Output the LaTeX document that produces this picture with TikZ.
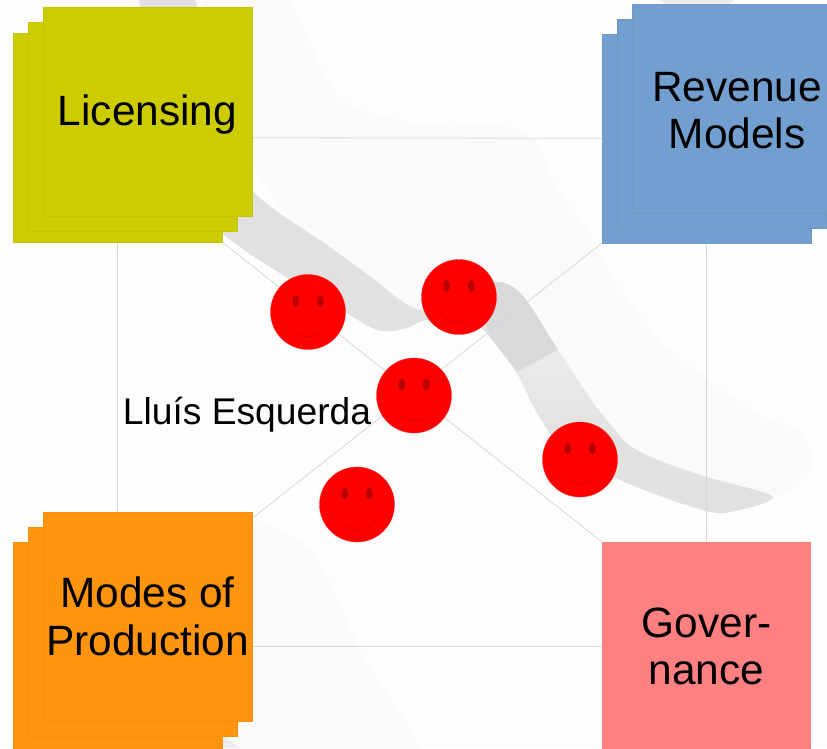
\documentclass[tikz,border=0pt]{standalone}
\usepackage{fontspec}
\setmainfont{Liberation Sans}
\definecolor{limeC}{HTML}{CCCC00}
\definecolor{blueC}{HTML}{729FCF}
\definecolor{orangeC}{HTML}{FF950E}
\definecolor{pinkC}{HTML}{FF8080}
\definecolor{wireC}{HTML}{D3D8E6}
\definecolor{eyeC}{HTML}{B80000}
\definecolor{smileC}{HTML}{E20000}
\definecolor{paperC}{HTML}{FDFDFE}
\definecolor{sweepC}{HTML}{E1E1E1}
\definecolor{sweepD}{HTML}{D9D9D9}
\definecolor{sweepL}{HTML}{EBEBEB}
\definecolor{faintC}{HTML}{FAFAFB}
\pgfdeclarelayer{sweeps}
\pgfdeclarelayer{wires}
\pgfsetlayers{sweeps,wires,main}
\tikzset{
  card/.style={draw=#1!96!black,line width=0.4pt,fill=#1,minimum size=208.6pt,inner sep=0pt},
  bare/.style={fill=#1,draw=none,minimum size=209pt,inner sep=0pt},
  tag/.style={inner sep=0pt,align=center,text=black,font=\fontsize{42.4}{47.5}\selectfont},
  wire/.style={draw=wireC,line width=0.8pt},
  smileface/.style={circle,fill=red,draw=red!85!white,line width=0.3pt,minimum size=75pt,inner sep=0pt},
  eyemark/.style={fill=eyeC,draw=none},
  smilemark/.style={draw=smileC,line width=0.9pt},
  caption/.style={inner sep=0pt,anchor=base,text=black,font=\fontsize{37.2}{44}\selectfont}
}
\newcommand{\smiley}[3]{%
  \node[smileface] (#1) at (#2,#3) {};
  \fill[eyemark] ([shift={(-12.3pt,11pt)}]#1.center) ellipse[x radius=3.2pt,y radius=6pt];
  \fill[eyemark] ([shift={(12.3pt,11pt)}]#1.center) ellipse[x radius=3.2pt,y radius=6pt];
  \draw[smilemark] ([shift={(-20pt,-15pt)}]#1.center) .. controls ([shift={(-9pt,-28pt)}]#1.center) and ([shift={(9pt,-28pt)}]#1.center) .. ([shift={(20pt,-15pt)}]#1.center);
}
\begin{document}
\begin{tikzpicture}[x=1pt,y=-1pt]
\useasboundingbox (0,0) rectangle (827,748);
\clip (0,0) rectangle (827,748);
\begin{pgfonlayer}{sweeps}
\clip (0,0) rectangle (827,748);
\fill[paperC] (0,0) rectangle (827,748);
% faint sweeps
\fill[faintC] plot[smooth,tension=.5] coordinates {(280,-20) (300,20) (343,100) (430,125) (523,130) (557,187) (590,233) (613,277) (630,303) (667,347) (713,383) (763,417) (797,430) (813,460) (800,483) (773,497) (700,485) (620,460) (545,370) (497,300) (420,315) (300,230) (230,120) (200,-20)};
\fill[faintC] plot[smooth,tension=.5] coordinates {(255,520) (313,553) (360,650) (420,770) (235,770) (222,735)};
% main sweep
\fill[sweepC] plot[smooth,tension=.5] coordinates {(135,-20) (187,-20) (225,120) (252,190) (327,245) (375,280) (403,302) (425,310) (455,297) (497,282) (517,290) (533,310) (557,350) (593,403) (623,440) (653,458) (707,477) (773,497) (723,513) (680,503) (620,480) (565,450) (537,413) (517,373) (490,337) (470,322) (427,320) (407,328) (383,331) (353,317) (222,233) (170,150)};
\fill[sweepD] plot[smooth,tension=.5] coordinates {(470,285) (497,282) (517,290) (533,310)} -- (558,350) -- (517,372) -- (490,337) -- cycle;
\shade[top color=sweepL,bottom color=sweepC] (517,372) -- (558,350) -- (593,403) -- (623,440) -- (565,450) -- (537,413) -- cycle;
% other traces of the background
\fill[sweepL] (660,0) -- (733,0) -- (728,5) -- (668,5) -- cycle;
\fill[sweepL] (222,735) -- (240,748) -- (222,748) -- cycle;
\end{pgfonlayer}
% rear cards, which the connectors join
\node[card=limeC] (licB) at (117.5,137.5) {};
\node[card=blueC] (revB) at (706.5,138.5) {};
\node[card=orangeC] (modB) at (117.5,646.5) {};
\node[bare=pinkC] (gov) at (706.5,646.5) {};
\begin{pgfonlayer}{wires}
\clip (0,0) rectangle (827,748);
\draw[wire] (licB.center) -- (revB.center);
\draw[wire] (licB.center) -- (modB.center);
\draw[wire] (revB.center) -- (gov.center);
\draw[wire] (modB.center) -- (gov.center);
\draw[wire] (licB.south east) -- (gov.north west);
\draw[wire] (revB.south west) -- (modB.north east);
\end{pgfonlayer}
\node[card=limeC] (licM) at (132.5,126.5) {};
\node[card=limeC] (licF) at (147.5,111.5) {};
\node[card=blueC] (revM) at (721.5,123.5) {};
\node[card=blueC] (revF) at (736.5,108.5) {};
\node[card=orangeC] (modM) at (132.5,631.5) {};
\node[card=orangeC] (modF) at (147.5,616.5) {};
\node[tag] (licT) at ([yshift=-3.5pt]licF.center) {Licensing};
\node[tag] (revT) at ([shift={(0.6pt,-2pt)}]revF.center) {Revenue\\Models};
\node[tag] (modT) at (modF.center) {Modes of\\Production};
\node[tag] (govT) at (gov.center) {Gover-\\nance};
\smiley{a}{308}{312}
\smiley{b}{459}{297}
\smiley{c}{414}{395.5}
\smiley{d}{580}{459.5}
\smiley{e}{357}{504.5}
\node[caption] (who) at (247,424) {Lluís Esquerda};
\end{tikzpicture}
\end{document}
